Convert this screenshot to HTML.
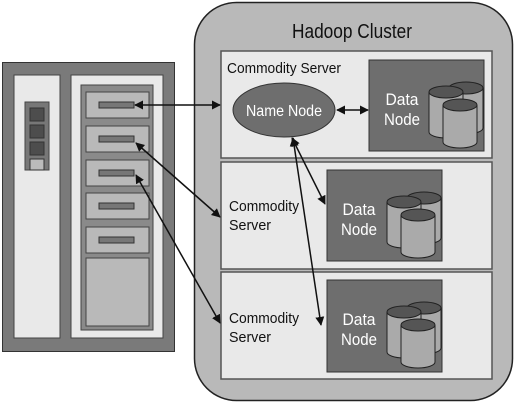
<!DOCTYPE html>
<html><head><style>body{margin:0;background:#fff}svg{display:block}text{font-family:"Liberation Sans",sans-serif}</style></head><body>
<svg width="515" height="404" viewBox="0 0 515 404" xmlns="http://www.w3.org/2000/svg">
<defs>
<marker id="a" viewBox="0 0 10 10" refX="9" refY="5" markerWidth="6" markerHeight="6" orient="auto-start-reverse"><path d="M0,0 L10,5 L0,10 z" fill="#111"/></marker>
</defs>
<rect x="194.5" y="2.5" width="318" height="398" rx="42" fill="#b9b9b9" stroke="#222" stroke-width="1.5"/>
<text x="352" y="38" font-size="20" text-anchor="middle" fill="#111" textLength="120" lengthAdjust="spacingAndGlyphs">Hadoop Cluster</text>
<g fill="#e9e9e9" stroke="#555" stroke-width="1.5">
<rect x="221" y="51" width="271" height="107"/>
<rect x="221" y="162" width="271" height="107"/>
<rect x="221" y="272" width="271" height="107"/>
</g>
<g fill="#6e6e6e" stroke="#333">
<rect x="369" y="60" width="115" height="91"/>
<rect x="327" y="170" width="115" height="91"/>
<rect x="327" y="280" width="115" height="92"/>
</g>
<g id="c1">
<g stroke="#222" stroke-width="1">
<path d="M449,88 v40 a17,6 0 0 0 34,0 v-40" fill="#aaa"/><ellipse cx="466" cy="88" rx="17" ry="6" fill="#555"/>
<path d="M429,92 v40 a17,6 0 0 0 34,0 v-40" fill="#aaa"/><ellipse cx="446" cy="92" rx="17" ry="6" fill="#555"/>
<path d="M443,105 v37 a17,6 0 0 0 34,0 v-37" fill="#aaa"/><ellipse cx="460" cy="105" rx="17" ry="6" fill="#555"/>
</g></g>
<use href="#c1" x="-42" y="110"/>
<use href="#c1" x="-42" y="220"/>
<g fill="#fff" font-size="17" text-anchor="middle">
<text x="402" y="105" textLength="33" lengthAdjust="spacingAndGlyphs">Data</text><text x="402" y="125" textLength="36" lengthAdjust="spacingAndGlyphs">Node</text>
<text x="359" y="215" textLength="33" lengthAdjust="spacingAndGlyphs">Data</text><text x="359" y="235" textLength="36" lengthAdjust="spacingAndGlyphs">Node</text>
<text x="359" y="325" textLength="33" lengthAdjust="spacingAndGlyphs">Data</text><text x="359" y="345" textLength="36" lengthAdjust="spacingAndGlyphs">Node</text>
</g>
<g fill="#111" font-size="15">
<text x="227" y="73" textLength="114" lengthAdjust="spacingAndGlyphs">Commodity Server</text>
<text x="229" y="211" textLength="70" lengthAdjust="spacingAndGlyphs">Commodity</text><text x="229" y="230" textLength="42" lengthAdjust="spacingAndGlyphs">Server</text>
<text x="229" y="323" textLength="70" lengthAdjust="spacingAndGlyphs">Commodity</text><text x="229" y="342" textLength="42" lengthAdjust="spacingAndGlyphs">Server</text>
</g>
<ellipse cx="284" cy="110" rx="51" ry="27" fill="#6e6e6e" stroke="#333"/>
<text x="284" y="116" fill="#fff" font-size="16" text-anchor="middle" textLength="76" lengthAdjust="spacingAndGlyphs">Name Node</text>
<rect x="2.5" y="62.5" width="172" height="289" fill="#7a7a7a" stroke="#333"/>
<rect x="14" y="75" width="46" height="263" fill="#e9e9e9" stroke="#444"/>
<rect x="25" y="102" width="24" height="68" fill="#777" stroke="#444"/>
<g stroke="#333"><rect x="30" y="108" width="14" height="13" fill="#4d4d4d"/><rect x="30" y="125" width="14" height="13" fill="#4d4d4d"/><rect x="30" y="142" width="14" height="13" fill="#4d4d4d"/><rect x="30" y="159" width="14" height="11" fill="#bbb"/></g>
<rect x="71" y="75" width="92" height="263" fill="#e9e9e9" stroke="#444"/>
<rect x="81" y="85" width="72" height="245" fill="#8a8a8a" stroke="#444"/>
<g fill="#b9b9b9" stroke="#444">
<rect x="86" y="92" width="63" height="26"/><rect x="86" y="126" width="63" height="26"/><rect x="86" y="160" width="63" height="26"/><rect x="86" y="193" width="63" height="26"/><rect x="86" y="227" width="63" height="26"/><rect x="86" y="258" width="63" height="68"/>
</g>
<g fill="#777" stroke="#333">
<rect x="99" y="102" width="35" height="6"/><rect x="99" y="136" width="35" height="6"/><rect x="99" y="170" width="35" height="6"/><rect x="99" y="203" width="35" height="6"/><rect x="99" y="237" width="35" height="6"/>
</g>
<g stroke="#111" stroke-width="1.5" fill="none" marker-start="url(#a)" marker-end="url(#a)">
<line x1="135" y1="105" x2="220" y2="105"/>
<line x1="136" y1="143" x2="220" y2="217"/>
<line x1="136" y1="175" x2="220" y2="323"/>
<line x1="337" y1="110" x2="368" y2="110"/>
<line x1="292" y1="138" x2="325" y2="204"/>
<line x1="293" y1="138" x2="321" y2="325"/>
</g>
</svg>
</body></html>
